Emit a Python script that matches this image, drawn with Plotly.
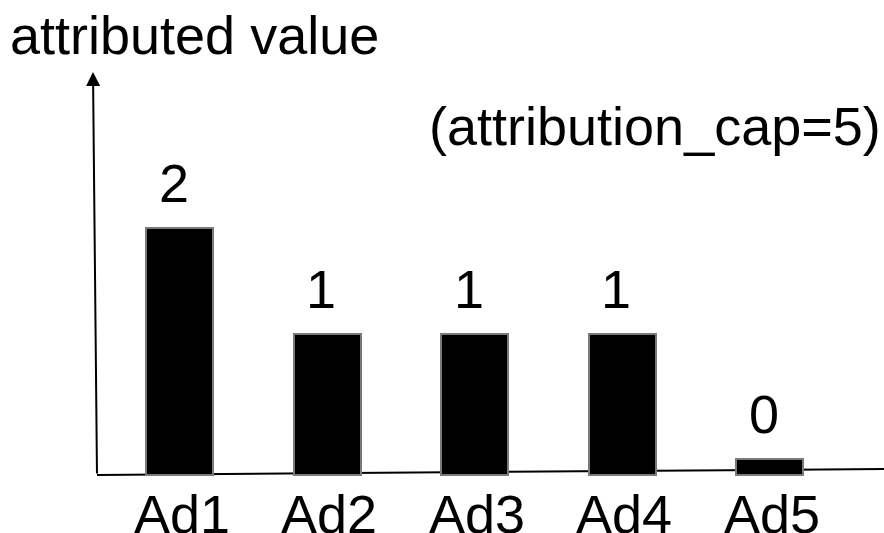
import plotly.graph_objects as go

# ---- data ----
categories = ["Ad1", "Ad2", "Ad3", "Ad4", "Ad5"]
attributed_values = [2, 1, 1, 1, 0]          # labels shown above bars
drawn_heights = [2.35, 1.34, 1.34, 1.34, 0.15]  # bar heights as drawn in the diagram
y_title = "attributed value"
note_text = "(attribution_cap=5)"

W, H = 884, 533
FONT = "Arial, Liberation Sans, sans-serif"
FS = 54

xpos = list(range(len(categories)))

fig = go.Figure()
fig.add_trace(go.Bar(
    x=xpos, y=drawn_heights, width=0.455,
    marker=dict(color="black", line=dict(color="#7a7a7a", width=2)),
    hoverinfo="skip", showlegend=False,
))

# value labels above bars
for xi, h, v in zip(xpos, drawn_heights, attributed_values):
    fig.add_annotation(x=xi, y=h, text=str(v), showarrow=False,
                       xref="x", yref="y", yanchor="bottom", xanchor="center",
                       yshift=13, xshift=-6,
                       font=dict(family=FONT, size=FS, color="black"))

# category labels under bars
for xi, c in zip(xpos, categories):
    fig.add_annotation(x=xi, y=0, text=c, showarrow=False,
                       xref="x", yref="y", yanchor="top", xanchor="center",
                       yshift=-7, xshift=2,
                       font=dict(family=FONT, size=FS, color="black"))

# axis title
fig.add_annotation(x=8 / W, y=1 - 35 / H, xref="paper", yref="paper",
                   text=y_title, showarrow=False, xanchor="left", yanchor="middle",
                   font=dict(family=FONT, size=FS, color="black"))
# note
fig.add_annotation(x=655 / W, y=1 - 126 / H, xref="paper", yref="paper",
                   text=note_text, showarrow=False, xanchor="center", yanchor="middle",
                   font=dict(family=FONT, size=FS, color="black"))

# y axis with arrow
fig.add_annotation(x=93 / W, y=1 - 72 / H, xref="paper", yref="paper",
                   ax=4, ay=403, axref="pixel", ayref="pixel",
                   text="", showarrow=True, arrowhead=2, arrowsize=1.4,
                   arrowwidth=2, arrowcolor="black", standoff=0)
# x axis line (slightly tilted)
fig.add_shape(type="line", xref="paper", yref="paper",
              x0=97 / W, y0=1 - 475 / H, x1=1.0, y1=1 - 469 / H,
              line=dict(color="black", width=2), layer="below")

fig.update_layout(
    width=W, height=H,
    margin=dict(l=0, r=0, t=0, b=0),
    paper_bgcolor="white", plot_bgcolor="white",
    xaxis=dict(range=[-1.2187, 4.7765], visible=False, fixedrange=True),
    yaxis=dict(range=[-0.5524, 4.5238], visible=False, fixedrange=True),
    bargap=0,
)

fig.write_html("out.html", config={"displayModeBar": False},
               post_script="document.body.style.margin='0';document.body.style.overflow='hidden';")
